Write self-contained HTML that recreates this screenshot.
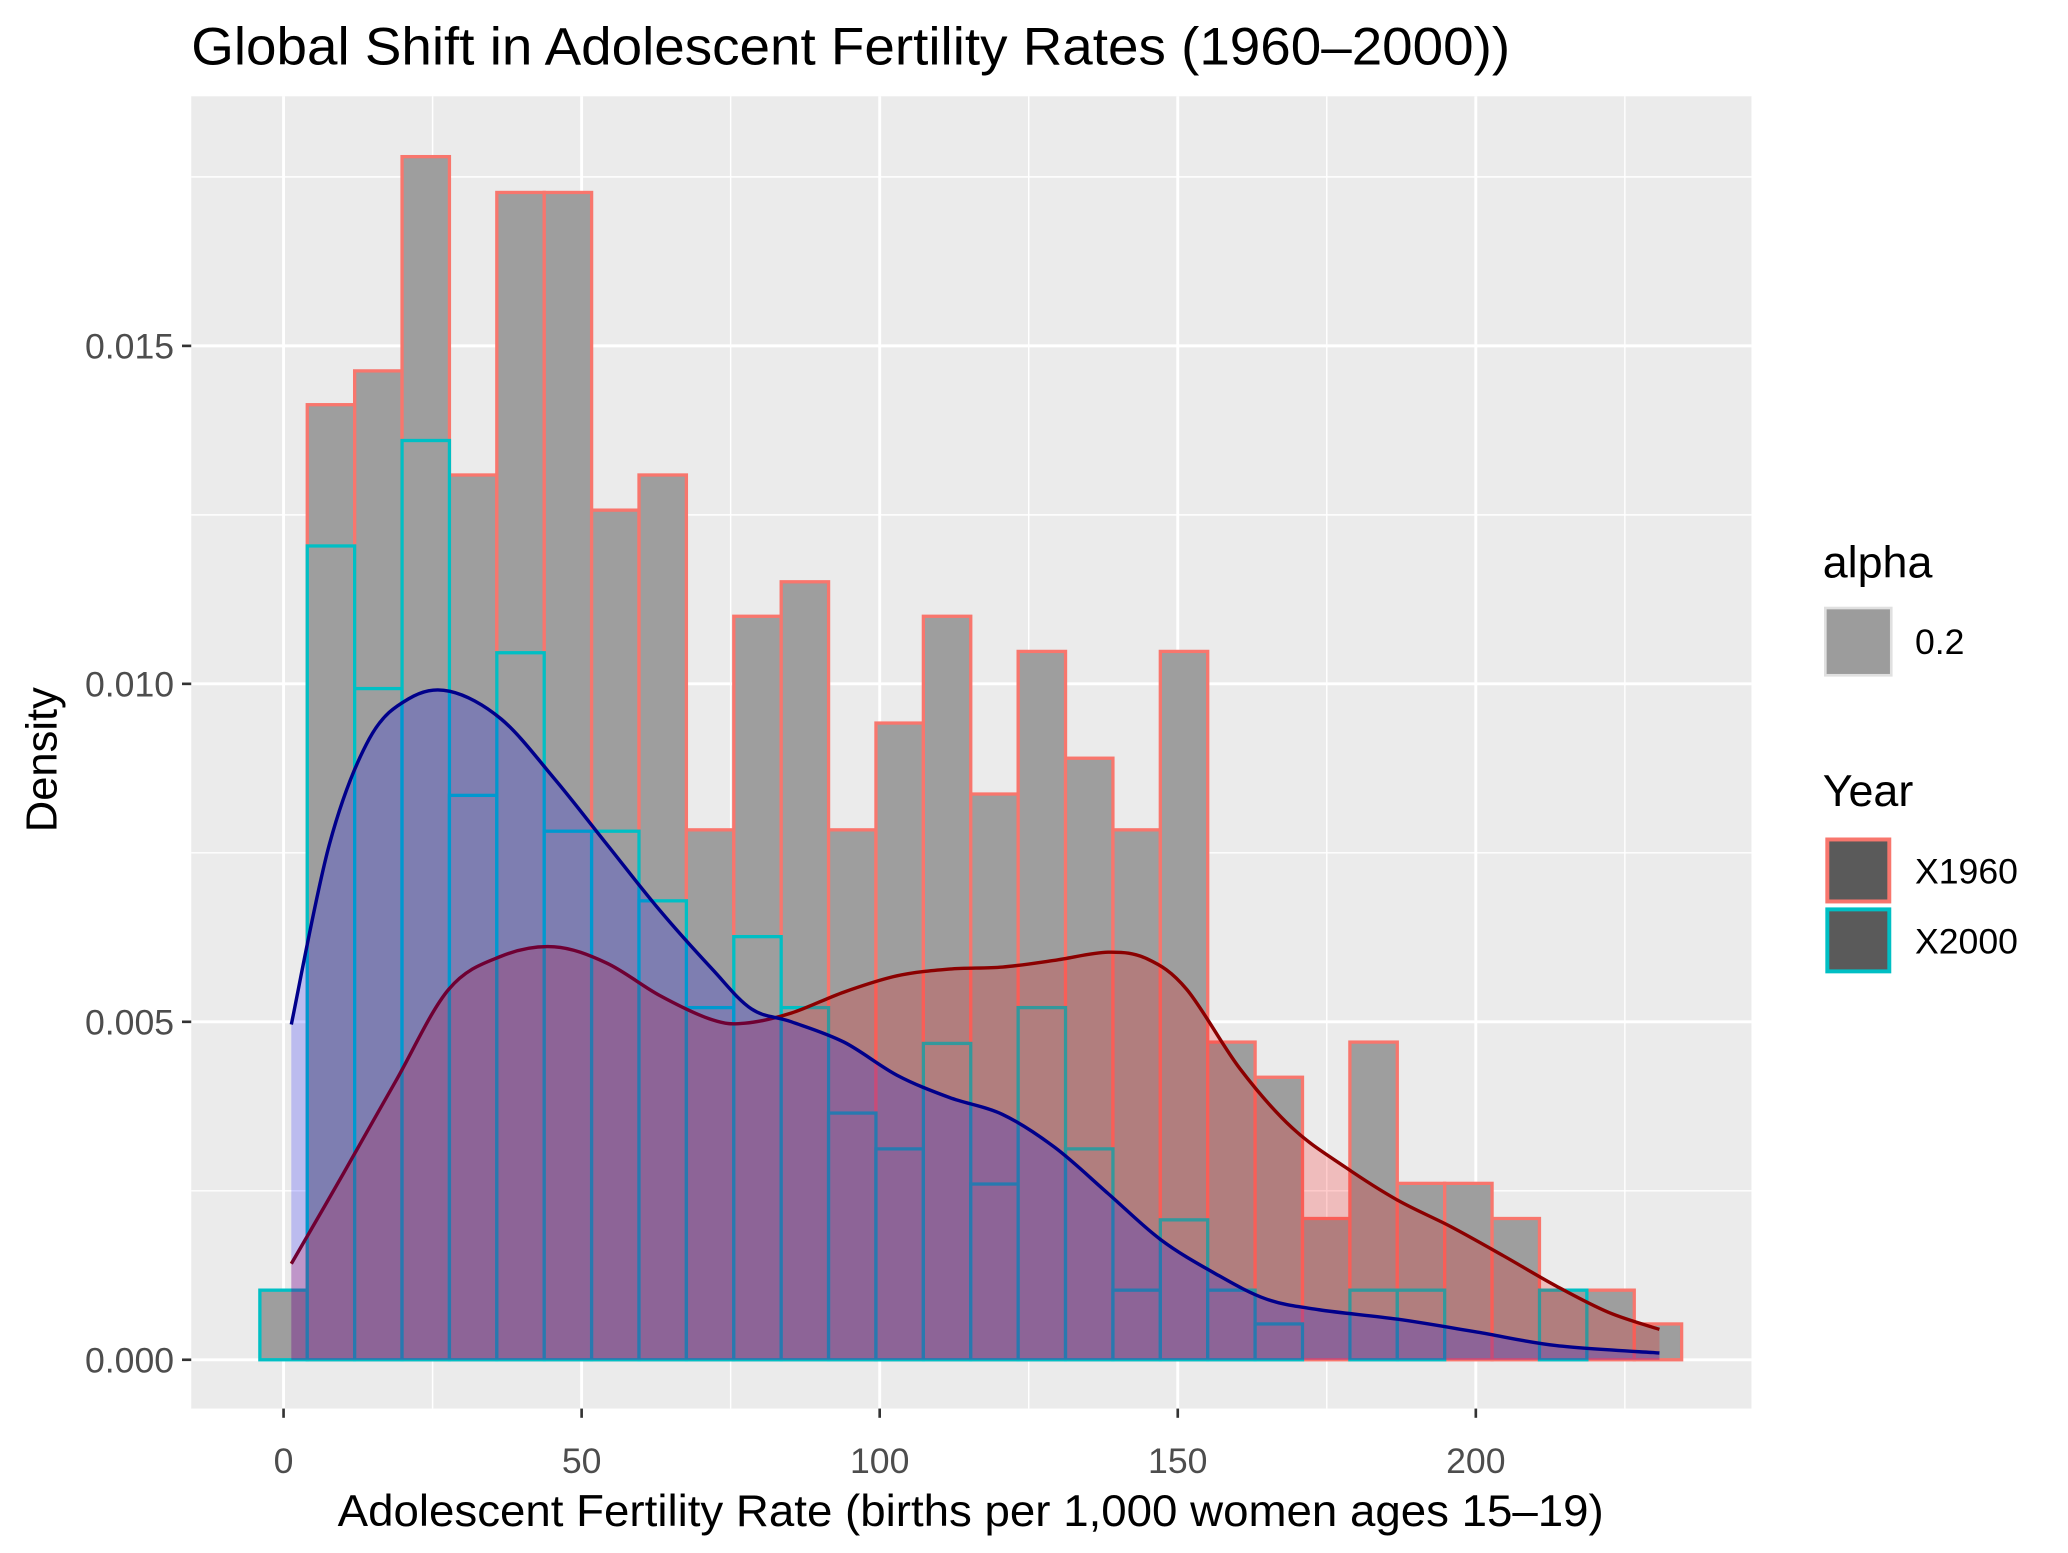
<!DOCTYPE html>
<html><head><meta charset="utf-8"><style>
html,body{margin:0;padding:0;background:#fff}
svg{display:block}
text{font-family:"Liberation Sans",Arial,sans-serif}
</style></head><body>
<svg id="chart" width="2068" height="1553" viewBox="0 0 1568 1177.5" xmlns="http://www.w3.org/2000/svg">
<rect width="1568" height="1177.5" fill="#fff"/>
<text x="145" y="49" font-size="40" textLength="1000" lengthAdjust="spacingAndGlyphs" fill="#000">Global Shift in Adolescent Fertility Rates (1960–2000))</text>
<rect x="145" y="73" width="1183" height="995" fill="#ebebeb"/>
<g id="grid"></g>
<g id="hists"></g>
<g id="dens"></g>
<g id="axes"></g>
<text x="736" y="1157" font-size="34" textLength="960" lengthAdjust="spacingAndGlyphs" text-anchor="middle" fill="#000">Adolescent Fertility Rate (births per 1,000 women ages 15–19)</text>
<text transform="translate(43,576) rotate(-90)" font-size="33" text-anchor="middle" fill="#000">Density</text>
<g>
<text x="1382" y="438" font-size="34">alpha</text>
<rect x="1384" y="461" width="50" height="51" fill="#9c9c9c" stroke="#e0e0e0" stroke-width="2"/>
<text x="1452" y="496" font-size="27">0.2</text>
<text x="1382" y="611" font-size="34">Year</text>
<rect x="1385.5" y="636.5" width="47" height="47" fill="#5a5a5a" stroke="#f8766d" stroke-width="3"/>
<text x="1452" y="670" font-size="27">X1960</text>
<rect x="1385.5" y="689.5" width="47" height="47" fill="#5a5a5a" stroke="#00bfc4" stroke-width="3"/>
<text x="1452" y="723" font-size="27">X2000</text>
</g>
</svg>
<script>
const binCenters=[0,7.95,15.9,23.85,31.8,39.75,47.7,55.65,63.6,71.55,79.5,87.45,95.4,103.35,111.3,119.25,127.2,135.15,143.1,151.05,159,166.95,174.9,182.85,190.8,198.75,206.7,214.65,222.6,230.55];
const hist1960=[0,0.01413,0.01463,0.0178,0.01309,0.01727,0.01727,0.01257,0.01309,0.00784,0.011,0.01151,0.00784,0.00942,0.011,0.00837,0.01048,0.0089,0.00784,0.01048,0.0047,0.00418,0.00209,0.0047,0.00261,0.00261,0.00209,0.00103,0.00103,0.00053];
const hist2000=[0.00103,0.01204,0.00993,0.0136,0.00835,0.01046,0.00782,0.00782,0.00679,0.00521,0.00626,0.00521,0.00365,0.00312,0.00468,0.0026,0.00521,0.00312,0.00103,0.00207,0.00103,0.00053,0,0.00103,0.00103,0,0,0.00103,0,0];
const dens2000X=[1.3,7.7,14.4,21,27.9,36.5,45.4,54.2,63.1,71.9,78.5,85.2,94,102.9,111.7,120.6,129.4,138.3,147.1,156,164.8,173.7,186.9,200.2,213.5,230.8];
const dens2000Y=[0.00496,0.00763,0.00919,0.00978,0.00989,0.00948,0.0086,0.00763,0.00665,0.00578,0.00519,0.005,0.0047,0.00421,0.00388,0.00363,0.00314,0.00246,0.00178,0.00129,0.0009,0.00074,0.0006,0.00041,0.00021,0.0001];
const dens1960X=[1.3,10,18.8,27.7,36.5,45.4,54.2,63.1,71.9,77.4,85.2,94,102.9,111.7,120.6,129.4,138.3,144.9,151.5,160.4,169.2,178.1,186.9,195.8,204.6,213.5,222.3,230.8];
const dens1960Y=[0.00142,0.00275,0.00412,0.00548,0.00597,0.00611,0.00587,0.00539,0.00503,0.00498,0.00513,0.00544,0.00568,0.00578,0.00581,0.00591,0.00603,0.00593,0.00548,0.00431,0.00343,0.00285,0.00236,0.00197,0.00154,0.00109,0.0007,0.00045];
const xTicks=[0,50,100,150,200];
const yTicks=[0,0.005,0.01,0.015];
const yTickLabels=["0.000","0.005","0.010","0.015"];
const binWidth=7.95;

const NS="http://www.w3.org/2000/svg";
const X=v=>215+v*4.52;
const Y=v=>1031-v*51250;
function mk(tag,attrs,parent){const e=document.createElementNS(NS,tag);for(const k in attrs)e.setAttribute(k,attrs[k]);parent.appendChild(e);return e;}
const grid=document.getElementById('grid'),hists=document.getElementById('hists'),dens=document.getElementById('dens'),axes=document.getElementById('axes');
for(let i=0;i<xTicks.length;i++){const v=xTicks[i]+25;const l=mk('line',{x1:X(v),x2:X(v),y1:73,y2:1068,stroke:'#fff','stroke-width':1.1},grid);

}
for(let i=0;i<yTicks.length;i++){const v=yTicks[i]+0.0025;const l=mk('line',{x1:145,x2:1328,y1:Y(v),y2:Y(v),stroke:'#fff','stroke-width':1.1},grid);

}
for(let i=0;i<xTicks.length;i++){const l=mk('line',{x1:X(xTicks[i]),x2:X(xTicks[i]),y1:73,y2:1068,stroke:'#fff','stroke-width':2.2},grid);

}
for(let i=0;i<yTicks.length;i++){const l=mk('line',{x1:145,x2:1328,y1:Y(yTicks[i]),y2:Y(yTicks[i]),stroke:'#fff','stroke-width':2.2},grid);

}
function drawHist(vals,color,name){
  for(let i=0;i<binCenters.length;i++){
    const x0=X(binCenters[i]-binWidth/2),x1=X(binCenters[i]+binWidth/2);
    const y0=Y(vals[i]);
    const r=mk('rect',{x:x0,y:y0,width:x1-x0,height:Y(0)-y0,fill:'#9e9e9e',stroke:color,'stroke-width':2.5},hists);
    
    
  }
}
drawHist(hist1960,'#f8766d','hist-1960');
drawHist(hist2000,'#00bfc4','hist-2000');
function smoothPath(xs,ys){
  const p=xs.map((x,i)=>[X(x),Y(ys[i])]);
  let d='M'+p[0][0]+','+p[0][1];
  for(let i=0;i<p.length-1;i++){
    const p0=p[Math.max(0,i-1)],p1=p[i],p2=p[i+1],p3=p[Math.min(p.length-1,i+2)];
    const c1=[p1[0]+(p2[0]-p0[0])/6,p1[1]+(p2[1]-p0[1])/6];
    const c2=[p2[0]-(p3[0]-p1[0])/6,p2[1]-(p3[1]-p1[1])/6];
    d+=' C'+c1[0]+','+c1[1]+' '+c2[0]+','+c2[1]+' '+p2[0]+','+p2[1];
  }
  return d;
}
function drawDens(xs,ys,fill,line,name){
  const d=smoothPath(xs,ys);
  const a=mk('path',{d:d+' L'+X(xs[xs.length-1])+','+Y(0)+' L'+X(xs[0])+','+Y(0)+' Z',fill:fill,stroke:'none'},dens);
  
  
  const l=mk('path',{d:d,fill:'none',stroke:line,'stroke-width':2.6},dens);
  
  
}
drawDens(dens1960X,dens1960Y,'rgba(255,0,0,0.2)','#8b0000','density-1960');
drawDens(dens2000X,dens2000Y,'rgba(0,0,255,0.2)','#00008b','density-2000');
for(let i=0;i<xTicks.length;i++){
  const t=mk('line',{x1:X(xTicks[i]),x2:X(xTicks[i]),y1:1068,y2:1075,stroke:'#333','stroke-width':2},axes);
  
  
  const s=mk('text',{x:X(xTicks[i]),y:1117,'font-size':27,'text-anchor':'middle',fill:'#4d4d4d'},axes);
  s.textContent=String(xTicks[i]);
  
  
}
for(let i=0;i<yTicks.length;i++){
  const t=mk('line',{x1:138,x2:145,y1:Y(yTicks[i]),y2:Y(yTicks[i]),stroke:'#333','stroke-width':2},axes);
  
  
  const s=mk('text',{x:132,y:Y(yTicks[i])+9.5,'font-size':27,'text-anchor':'end',fill:'#4d4d4d'},axes);
  s.textContent=yTickLabels[i];
  
  
}
</script>
</body></html>
